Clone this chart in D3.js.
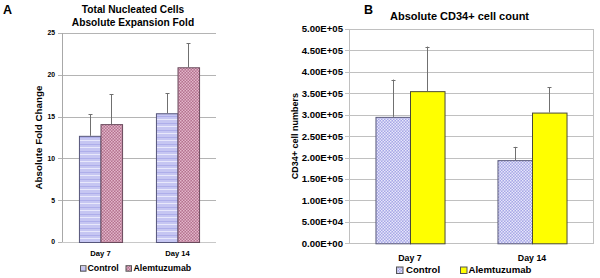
<!DOCTYPE html>
<html><head><meta charset="utf-8">
<script src="https://cdn.jsdelivr.net/npm/d3@7"></script>
<style>
html,body{margin:0;padding:0;background:#fff;}
svg text{font-family:"Liberation Sans",Arial,sans-serif;font-weight:bold;fill:#000;}
</style></head>
<body>
<svg id="c" width="600" height="278"></svg>
<script>
// ---- data ----
const days = ["Day 7", "Day 14"];
const seriesNames = ["Control", "Alemtuzumab"];
const foldControl = [12.7, 15.4];
const foldControlErr = [2.6, 2.4];
const foldAlem = [14.1, 20.9];
const foldAlemErr = [3.6, 2.9];
const foldTicks = [0, 5, 10, 15, 20, 25];
const cd34Control = [2.95e5, 1.94e5];
const cd34ControlErr = [0.87e5, 0.31e5];
const cd34Alem = [3.55e5, 3.05e5];
const cd34AlemErr = [1.04e5, 0.59e5];
const cd34Ticks = [0, 5e4, 1e5, 1.5e5, 2e5, 2.5e5, 3e5, 3.5e5, 4e5, 4.5e5, 5e5];
const cd34TickLabels = ["0.00E+00","5.00E+04","1.00E+05","1.50E+05","2.00E+05","2.50E+05","3.00E+05","3.50E+05","4.00E+05","4.50E+05","5.00E+05"];

const svg = d3.select("#c");
const defs = svg.append("defs");

// patterns
function stripePattern(id){
  const p = defs.append("pattern").attr("id", id).attr("patternUnits","userSpaceOnUse").attr("width",6).attr("height",7);
  p.append("rect").attr("width",6).attr("height",7).attr("fill","#c6c6f2");
  p.append("rect").attr("y",0).attr("width",6).attr("height",1).attr("fill","#e8e8fb");
  p.append("rect").attr("y",4).attr("width",6).attr("height",1).attr("fill","#aeaeea");
}
function checkPattern(id, c1, c2, s){
  const p = defs.append("pattern").attr("id", id).attr("patternUnits","userSpaceOnUse").attr("width",2*s).attr("height",2*s);
  p.append("rect").attr("width",2*s).attr("height",2*s).attr("fill",c1);
  p.append("rect").attr("width",s).attr("height",s).attr("fill",c2);
  p.append("rect").attr("x",s).attr("y",s).attr("width",s).attr("height",s).attr("fill",c2);
}
stripePattern("pA0");
checkPattern("pA1", "#b4728f", "#e2b6ca", 1.5);
checkPattern("pB0", "#a6a6e6", "#e6e6fa", 1.5);

function panel(cfg){
  const g = svg.append("g");
  const x0 = d3.scaleBand().domain(days).range([cfg.left, cfg.right]).paddingInner(cfg.pad).paddingOuter(cfg.pad/2);
  const x1 = d3.scaleBand().domain(seriesNames).range([0, x0.bandwidth()]);
  const y = d3.scaleLinear().domain([cfg.ticks[0], cfg.ticks[cfg.ticks.length-1]]).range([cfg.bottom, cfg.top]);

  // gridlines with outside tick marks
  g.append("g").selectAll("line").data(cfg.ticks).join("line")
    .attr("x1", cfg.left - 4).attr("x2", cfg.right)
    .attr("y1", d => Math.round(y(d)) + 0.5).attr("y2", d => Math.round(y(d)) + 0.5)
    .attr("stroke", cfg.grid).attr("stroke-width", 1);
  // frame
  if (cfg.frame) {
    g.append("rect").attr("x", cfg.left + 0.5).attr("y", Math.round(cfg.top) + 0.5)
      .attr("width", cfg.right - cfg.left).attr("height", Math.round(cfg.bottom) - Math.round(cfg.top))
      .attr("fill", "none").attr("stroke", "#c0c0c0");
  } else {
    g.append("line").attr("x1", cfg.left + 0.5).attr("x2", cfg.left + 0.5)
      .attr("y1", cfg.top).attr("y2", cfg.bottom).attr("stroke", "#a8a8a8");
    g.append("line").attr("x1", cfg.left).attr("x2", cfg.right)
      .attr("y1", Math.round(cfg.bottom) + 0.5).attr("y2", Math.round(cfg.bottom) + 0.5).attr("stroke", "#c8c8c8");
  }
  // tick labels
  g.append("g").selectAll("text").data(cfg.ticks).join("text")
    .attr("x", cfg.tickX).attr("y", d => y(d) + cfg.tickFont * 0.36)
    .attr("text-anchor", "end").attr("font-size", cfg.tickFont)
    .text((d, i) => cfg.tickLabels[i]);

  // bars
  const series = [cfg.s0, cfg.s1];
  const errs = [cfg.e0, cfg.e1];
  series.forEach((vals, si) => {
    const name = seriesNames[si];
    g.append("g").selectAll("rect").data(days).join("rect")
      .attr("x", d => x0(d) + x1(name) + 0.5)
      .attr("y", (d, i) => y(vals[i]) + 0.5)
      .attr("width", x1.bandwidth())
      .attr("height", (d, i) => cfg.bottom - y(vals[i]))
      .attr("fill", cfg.fills[si]).attr("stroke", cfg.strokes[si]).attr("stroke-width", 1);
    // error bars (upper)
    const eg = g.append("g").attr("stroke", "#707070").attr("stroke-width", 1);
    days.forEach((d, i) => {
      const cx = Math.round(x0(d) + x1(name) + x1.bandwidth() / 2) + 0.5;
      const yt = y(vals[i] + errs[si][i]);
      eg.append("line").attr("x1", cx).attr("x2", cx).attr("y1", y(vals[i])).attr("y2", yt);
      eg.append("line").attr("x1", cx - 2).attr("x2", cx + 2).attr("y1", Math.round(yt) + 0.5).attr("y2", Math.round(yt) + 0.5);
    });
  });

  // x labels
  g.append("g").selectAll("text").data(days).join("text")
    .attr("x", d => x0(d) + x0.bandwidth() / 2).attr("y", cfg.xLabY)
    .attr("text-anchor", "middle").attr("font-size", cfg.xFont).text(d => d);

  // y title
  g.append("text").attr("transform", `translate(${cfg.yTitleX},${(cfg.top + cfg.bottom) / 2}) rotate(-90)`)
    .attr("text-anchor", "middle").attr("font-size", cfg.yTitleFont).text(cfg.yTitle);

  // titles
  cfg.titles.forEach(t => {
    g.append("text").attr("x", t.x).attr("y", t.y).attr("text-anchor", "middle")
      .attr("font-size", cfg.titleFont).text(t.text);
  });

  // panel letter
  g.append("text").attr("x", cfg.letterX).attr("y", 14).attr("font-size", 12.5).text(cfg.letter);

  // legend
  cfg.legend.forEach((L, i) => {
    g.append("rect").attr("x", L.sx + 0.5).attr("y", cfg.legY - cfg.legSq + 0.5).attr("width", cfg.legSq).attr("height", cfg.legSq)
      .attr("fill", cfg.fills[i]).attr("stroke", "#555");
    g.append("text").attr("x", L.tx).attr("y", cfg.legY).attr("font-size", cfg.legFont).text(seriesNames[i]);
  });
}

panel({
  left: 62, right: 216, top: 33, bottom: 242, pad: 0.44,
  ticks: foldTicks, tickLabels: foldTicks.map(String), tickX: 55, tickFont: 6.8,
  grid: "#b4b4b4", frame: false,
  s0: foldControl, s1: foldAlem, e0: foldControlErr, e1: foldAlemErr,
  fills: ["url(#pA0)", "url(#pA1)"], strokes: ["#55557a", "#6a4a5c"],
  xLabY: 256, xFont: 7.6,
  yTitle: "Absolute Fold Change", yTitleX: 41.5, yTitleFont: 9.8,
  titleFont: 10.2,
  titles: [{x: 133, y: 12.5, text: "Total Nucleated Cells"}, {x: 133, y: 25.8, text: "Absolute Expansion Fold"}],
  letter: "A", letterX: 3,
  legY: 270.7, legSq: 5.5, legFont: 8.8,
  legend: [{sx: 80, tx: 87.5}, {sx: 125.5, tx: 133.5}]
});

panel({
  left: 349, right: 593, top: 29, bottom: 243.3, pad: 0.434,
  ticks: cd34Ticks, tickLabels: cd34TickLabels, tickX: 343, tickFont: 9.6,
  grid: "#c0c0c0", frame: true,
  s0: cd34Control, s1: cd34Alem, e0: cd34ControlErr, e1: cd34AlemErr,
  fills: ["url(#pB0)", "#ffff00"], strokes: ["#5a5a7a", "#4a4a3a"],
  xLabY: 260.5, xFont: 8.8,
  yTitle: "CD34+ cell numbers", yTitleX: 298, yTitleFont: 9,
  titleFont: 11,
  titles: [{x: 459.5, y: 19.5, text: "Absolute CD34+ cell count"}],
  letter: "B", letterX: 364,
  legY: 273, legSq: 6.5, legFont: 9.6,
  legend: [{sx: 396, tx: 406}, {sx: 460, tx: 468.5}]
});
</script>
</body></html>
